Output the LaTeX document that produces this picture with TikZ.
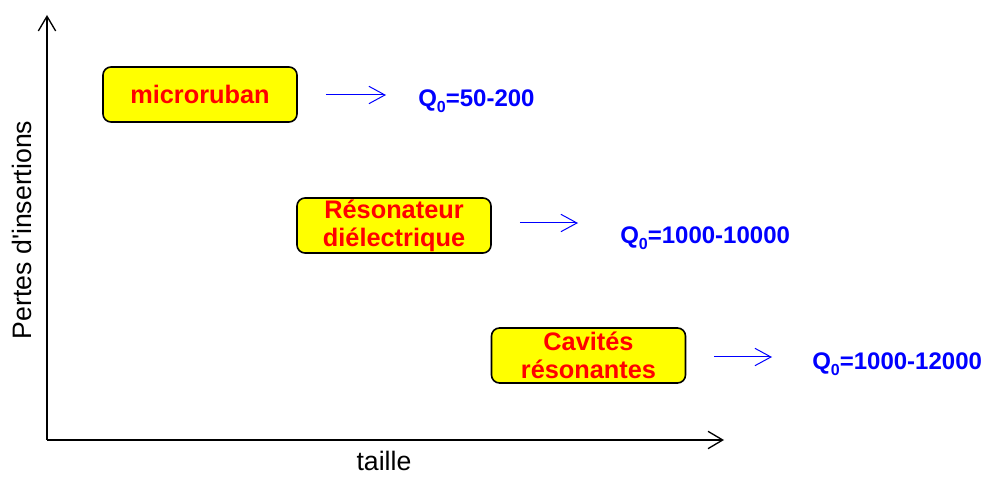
\documentclass[tikz,border=0pt]{standalone}
\usepackage{fontspec}
\setmainfont{Liberation Sans}
\usepackage{xcolor}
\usetikzlibrary{arrows.meta, positioning}
\definecolor{boxFill}{HTML}{FFFF00}
\definecolor{boxText}{HTML}{FF0000}
\definecolor{qBlue}{HTML}{0000FF}
\newcommand{\qzero}{Q\raisebox{-4.5pt}{\fontsize{12}{12}\selectfont 0}}

\begin{document}
\begin{tikzpicture}[
  x=0.75pt, y=-0.75pt,
  techbox/.style={draw=black, fill=boxFill, rounded corners=6pt, line width=1.2pt,
               align=center, text=boxText, inner sep=0pt,
               font=\fontsize{19}{21}\selectfont\bfseries,
               minimum width=145.5pt, minimum height=41.25pt},
  qlabel/.style={text=qBlue, inner sep=0pt, anchor=base west,
               font=\fontsize{18}{21}\selectfont\bfseries},
  axislabel/.style={font=\fontsize{20}{24}\selectfont, inner sep=0pt},
  axisarr/.style={-{Straight Barb[length=11pt, width=13pt]}, line width=1pt},
  qarr/.style={-{Straight Barb[length=12pt, width=13pt]}, line width=0.75pt,
               color=qBlue, shorten <=21pt}
]
  \useasboundingbox (0,0) rectangle (986,477);

  % axes
  \coordinate (origin) at (47,440);
  \coordinate (xend) at (724,440);
  \coordinate (yend) at (47,15);
  \draw[axisarr] (origin) -- (xend);
  \draw[axisarr] (origin) -- (yend);
  \node[axislabel, rotate=90] (ylab) at (22,230) {Pertes d\textquotesingle insertions};
  \node[axislabel] (xlab) at (384,461) {taille};

  % technologies
  \node[techbox] (micro) at (200,94.5) {microruban};
  \node[techbox] (dielec) at (394,225.5) {Résonateur\\diélectrique};
  \node[techbox] (cavite) at (588.5,355.5) {Cavités\\résonantes};

  % quality factors
  \node[qlabel] (qmicro) at (418,107) {\qzero=50-200};
  \node[qlabel] (qdielec) at (620,244) {\qzero=1000-10000};
  \node[qlabel] (qcavite) at (812,370) {\qzero=1000-12000};

  \coordinate (amicro) at (386,95);
  \coordinate (adielec) at (578,223);
  \coordinate (acavite) at (772,357);
  \draw[qarr] (micro.east |- amicro) -- (amicro);
  \draw[qarr] (dielec.east |- adielec) -- (adielec);
  \draw[qarr] (cavite.east |- acavite) -- (acavite);
\end{tikzpicture}
\end{document}
